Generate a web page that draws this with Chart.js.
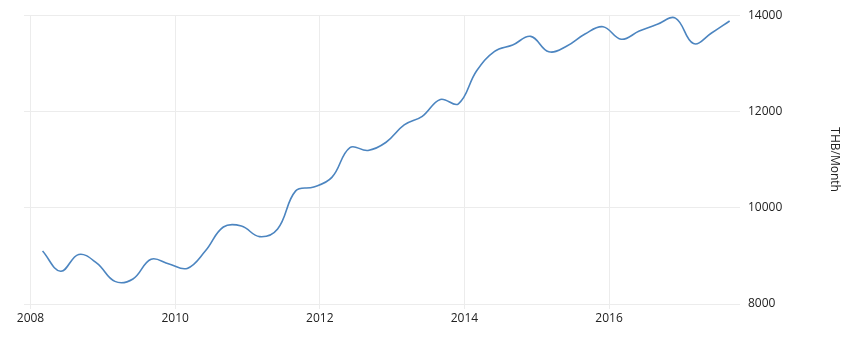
<!DOCTYPE html>
<html>
<head>
<meta charset="utf-8">
<script src="https://cdn.jsdelivr.net/npm/chart.js@4"></script>
<style>
  html, body { margin: 0; padding: 0; background: #fff; }
  #wrap { width: 863px; height: 344px; position: relative; }
</style>
</head>
<body>
<div id="wrap"><canvas id="chart"></canvas></div>
<script>
// quarterly, first point Mar 2008, last Sep 2017
const startYear = 2008
const startMonth = 3
const wages = [
  9100, 8680, 9030, 8850, 8470, 8520, 8930, 8830, 8740, 9100,
  9600, 9620, 9400, 9560, 10350, 10430, 10630, 11250, 11190, 11360,
  11720, 11900, 12250, 12160, 12840, 13250, 13380, 13560, 13240, 13360,
  13610, 13760, 13500, 13670, 13810, 13940, 13410, 13630, 13880
]
const xTicks = [2008, 2010, 2012, 2014, 2016]
const yTicks = [8000, 10000, 12000, 14000]
const unitLabel = "THB/Month"

const points = wages.map((v, i) => ({
  x: startYear + (startMonth - 1 + i * 3) / 12,
  y: v,
}))

const font = { family: "'Open Sans', 'DejaVu Sans', sans-serif", size: 12 }
const gridColor = "#ececec"
const textColor = "#222"

new Chart(document.getElementById("chart"), {
  type: "line",
  data: {
    datasets: [{
      data: points,
      borderColor: "#4c85c0",
      borderWidth: 1.6,
      pointRadius: 0,
      tension: 0.4,
      fill: false,
    }]
  },
  options: {
    responsive: true,
    maintainAspectRatio: false,
    animation: false,
    layout: { padding: { left: 24, top: 13, right: 0, bottom: 0 } },
    plugins: { legend: { display: false }, tooltip: { enabled: false } },
    scales: {
      x: {
        type: "linear",
        min: 2007.91,
        max: 2017.81,
        afterBuildTicks: (scale) => { scale.ticks = xTicks.map(v => ({ value: v })) },
        afterFit: (scale) => { scale.height = 40 },
        grid: { color: gridColor, tickLength: 5, drawTicks: true },
        border: { display: false },
        ticks: { color: textColor, font, padding: 2, maxRotation: 0, callback: (v) => String(v) },
      },
      y: {
        position: "right",
        min: 8000,
        max: 14000,
        afterBuildTicks: (scale) => { scale.ticks = yTicks.map(v => ({ value: v })) },
        afterFit: (scale) => { scale.width = 123 },
        grid: { color: gridColor, drawTicks: false, tickLength: 0 },
        border: { display: false },
        ticks: { color: textColor, font, padding: 8, callback: (v) => String(v) },
        title: { display: true, text: unitLabel, color: textColor, font, padding: { top: 21, bottom: 0 } },
      }
    }
  }
})
</script>
</body>
</html>
